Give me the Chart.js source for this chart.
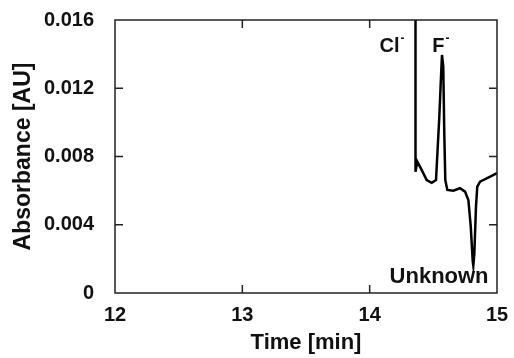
<!DOCTYPE html>
<html>
<head>
<meta charset="utf-8">
<script src="https://cdn.jsdelivr.net/npm/chart.js@4"></script>
<style>
    html, body { margin: 0; padding: 0; background: #fff; }
    #wrap { width: 514px; height: 358px; }
</style>
</head>
<body>
<div id="wrap"><canvas id="myChart" width="514" height="358"></canvas></div>
<script>
// chromatogram trace (time in min, absorbance in AU)
var times = [14.36, 14.36, 14.374, 14.409, 14.448, 14.487, 14.521, 14.547, 14.558, 14.568,
    14.578, 14.586, 14.594, 14.61, 14.657, 14.709, 14.749, 14.775, 14.794, 14.809,
    14.814, 14.822, 14.835, 14.845, 14.867, 14.919, 14.958, 15.0];
var absorbance = [0.03, 0.0071, 0.0077, 0.0072, 0.00662, 0.00646, 0.00662, 0.01033, 0.01229, 0.01395,
    0.01327, 0.00937, 0.00662, 0.00604, 0.0060, 0.00614, 0.00594, 0.00545, 0.00389, 0.0019,
    0.0016, 0.00233, 0.00506, 0.00623, 0.00653, 0.00672, 0.00686, 0.00703];

var xTicks = [12, 13, 14, 15];
var xTickLabels = ['12', '13', '14', '15'];
var yTicks = [0, 0.004, 0.008, 0.012, 0.016];
var yTickLabels = ['0', '0.004', '0.008', '0.012', '0.016'];

// peak labels
var peakNames = ['Cl', 'F', 'Unknown'];
var peakCharges = ['-', '-', ''];
var peakTimes = [14.175, 14.56, 14.545];
var peakLabelAbs = [0.01412, 0.01412, 0.00059];

var FONT = "'Liberation Sans', Arial, sans-serif";

var points = times.map(function(t, i) { return { x: t, y: absorbance[i] }; });

// marco + ticks hacia dentro + etiquetas de picos
var framePlugin = {
    id: 'framePlugin',
    afterDatasetsDraw: function(chart) {
        var ctx = chart.ctx;
        var a = chart.chartArea;
        var xs = chart.scales.x, ys = chart.scales.y;
        var tl = 8;
        ctx.save();
        ctx.strokeStyle = '#222';
        ctx.lineWidth = 1.5;
        ctx.strokeRect(a.left, a.top, a.right - a.left, a.bottom - a.top);
        ctx.beginPath();
        xTicks.slice(1, -1).forEach(function(v) {
            var px = xs.getPixelForValue(v);
            ctx.moveTo(px, a.bottom); ctx.lineTo(px, a.bottom - tl);
            ctx.moveTo(px, a.top); ctx.lineTo(px, a.top + tl);
        });
        yTicks.slice(1, -1).forEach(function(v) {
            var py = ys.getPixelForValue(v);
            ctx.moveTo(a.left, py); ctx.lineTo(a.left + tl, py);
            ctx.moveTo(a.right, py); ctx.lineTo(a.right - tl, py);
        });
        ctx.stroke();

        ctx.fillStyle = '#111';
        ctx.textBaseline = 'alphabetic';
        ctx.textAlign = 'left';
        peakNames.forEach(function(name, i) {
            var size = peakCharges[i] ? 20 : 22;
            ctx.font = 'bold ' + size + 'px ' + FONT;
            var w = ctx.measureText(name).width;
            var supW = 0;
            if (peakCharges[i]) {
                ctx.font = 'bold 12px ' + FONT;
                supW = ctx.measureText(peakCharges[i]).width + 1;
            }
            var cx = xs.getPixelForValue(peakTimes[i]);
            var by = ys.getPixelForValue(peakLabelAbs[i]);
            var x0 = cx - (w + supW) / 2;
            ctx.font = 'bold ' + size + 'px ' + FONT;
            ctx.fillText(name, x0, by);
            if (peakCharges[i]) {
                ctx.font = 'bold 12px ' + FONT;
                ctx.fillText(peakCharges[i], x0 + w + 1, by - 10);
            }
        });
        ctx.restore();
    }
};

var config = {
    type: 'line',
    data: {
        datasets: [{
            data: points,
            borderColor: '#000',
            borderWidth: 2.5,
            pointRadius: 0,
            tension: 0,
            fill: false,
            clip: 0
        }]
    },
    options: {
        responsive: false,
        animation: false,
        layout: { padding: { left: 0, right: 17, top: 20, bottom: 0 } },
        plugins: {
            legend: { display: false },
            tooltip: { enabled: false }
        },
        scales: {
            x: {
                type: 'linear',
                min: 12,
                max: 15,
                grid: { display: false },
                border: { display: false },
                afterBuildTicks: function(s) { s.ticks = xTicks.map(function(v) { return { value: v }; }); },
                afterFit: function(s) { s.height = 65; s.paddingLeft = 0; s.paddingRight = 0; },
                ticks: {
                    padding: 2,
                    color: '#111',
                    font: { family: FONT, size: 20, weight: 'bold' },
                    callback: function(v, i) { return xTickLabels[i]; }
                },
                title: {
                    display: true,
                    text: 'Time [min]',
                    color: '#111',
                    font: { family: FONT, size: 22, weight: 'bold' },
                    padding: { top: 0, bottom: 2 }
                }
            },
            y: {
                min: 0,
                max: 0.016,
                grid: { display: false },
                border: { display: false },
                afterBuildTicks: function(s) { s.ticks = yTicks.map(function(v) { return { value: v }; }); },
                afterFit: function(s) { s.width = 115; s.paddingTop = 0; s.paddingBottom = 0; },
                ticks: {
                    padding: 13,
                    color: '#111',
                    font: { family: FONT, size: 20, weight: 'bold' },
                    callback: function(v, i) { return yTickLabels[i]; }
                },
                title: {
                    display: true,
                    text: 'Absorbance [AU]',
                    color: '#111',
                    font: { family: FONT, size: 23, weight: 'bold' },
                    padding: { top: 10, bottom: 0 }
                }
            }
        }
    },
    plugins: [framePlugin]
};

var myChart = new Chart(document.getElementById('myChart').getContext('2d'), config);
</script>
</body>
</html>
